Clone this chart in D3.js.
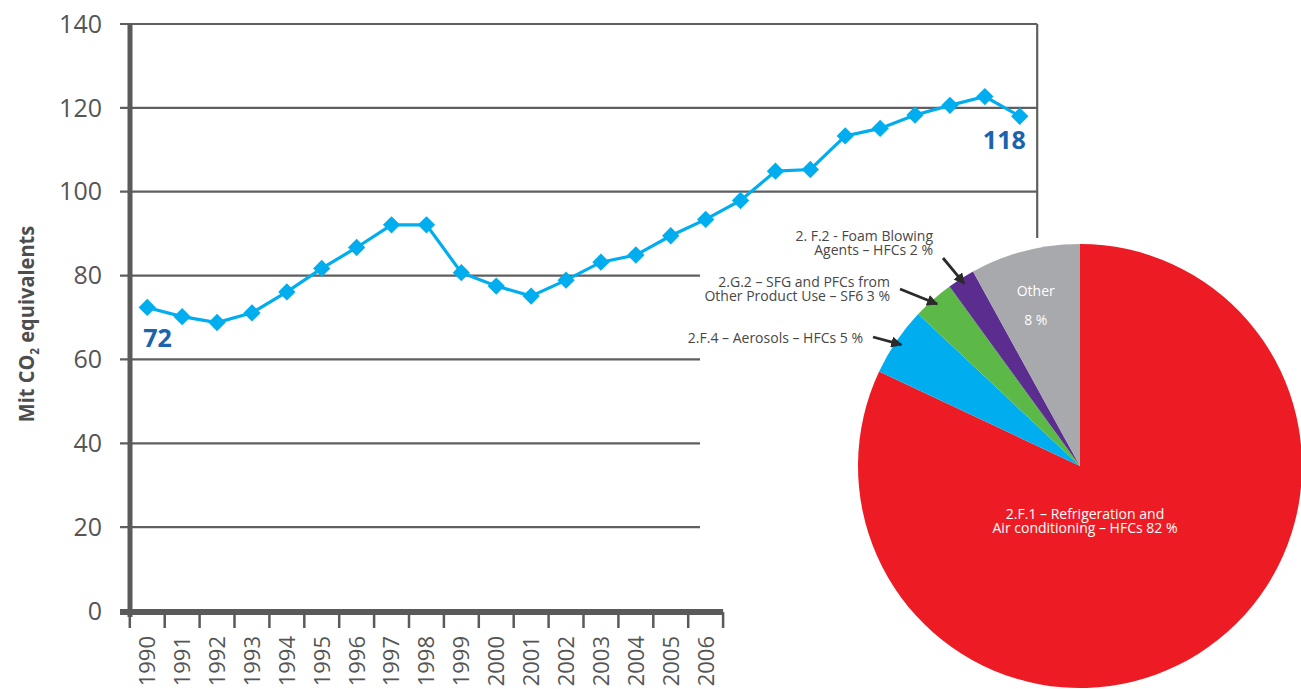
<!DOCTYPE html>
<html><head><meta charset="utf-8">
<script src="https://cdn.jsdelivr.net/npm/d3@7"></script>
<style>body{margin:0;background:#fff}svg{display:block}</style>
</head><body>
<svg id="c" width="1301" height="689"></svg>
<script>
// ---- data ----
const years = ["1990","1991","1992","1993","1994","1995","1996","1997","1998","1999","2000","2001","2002","2003","2004","2005","2006","2007","2008","2009","2010","2011","2012","2013","2014","2015"];
const emissions = [72.4,70.2,68.8,71.1,76.1,81.7,86.7,92.1,92.1,80.7,77.5,75.1,78.9,83.2,84.9,89.5,93.4,97.9,104.9,105.3,113.3,115.1,118.3,120.6,122.7,118.0];
const axisYears = ["1990","1991","1992","1993","1994","1995","1996","1997","1998","1999","2000","2001","2002","2003","2004","2005","2006"];
const yTicks = [0,20,40,60,80,100,120,140];
const valueLabels = [{year:"1990", text:"72"}, {year:"2015", text:"118"}];

const sliceNames = ["2.F.1 – Refrigeration and Air conditioning – HFCs", "2.F.4 – Aerosols – HFCs", "2.G.2 – SFG and PFCs from Other Product Use – SF6", "2. F.2 - Foam Blowing Agents – HFCs", "Other"];
const sliceShares = [82, 5, 3, 2, 8];
const sliceColors = ["#ed1c24", "#00aeef", "#5cb947", "#5b2d8e", "#a7a9ac"];

// ---- scales ----
const svg = d3.select("#c");
const x = d3.scaleBand().domain(years).range([129.8, 1037.2]);
const bw = x.bandwidth();
const y = d3.scaleLinear().domain([0, 140]).range([611, 24]);
const xc = d => x(d) + bw / 2;
const gridCol = "#5f5f5f";
const xRight = x.range()[1];
const axisEnd = x(axisYears[axisYears.length - 1]) + bw;

// gridlines
svg.append("g").selectAll("line").data(yTicks.filter(t => t > 0)).join("line")
  .attr("x1", 120).attr("x2", t => t >= 100 ? xRight : 700)
  .attr("y1", t => y(t)).attr("y2", t => y(t))
  .attr("stroke", gridCol).attr("stroke-width", 2.2);

// right border
svg.append("line").attr("x1", xRight).attr("x2", xRight).attr("y1", y(140)).attr("y2", 238)
  .attr("stroke", gridCol).attr("stroke-width", 2.2);

// y tick labels
svg.append("g").selectAll("text").data(yTicks).join("text")
  .attr("x", 102).attr("y", t => y(t)).attr("dy", "0.35em")
  .attr("text-anchor", "end").attr("fill", "#555")
  .style("font", "400 25px 'Open Sans', sans-serif").text(t => t);

// left axis
svg.append("line").attr("x1", 130).attr("x2", 130).attr("y1", y(140)).attr("y2", 617)
  .attr("stroke", "#5a5a5a").attr("stroke-width", 5);
// x axis
svg.append("line").attr("x1", 120).attr("x2", axisEnd).attr("y1", 612).attr("y2", 612)
  .attr("stroke", "#5a5a5a").attr("stroke-width", 6);
const tickPos = axisYears.map(d => x(d)).concat([axisEnd]);
svg.append("g").selectAll("line").data(tickPos).join("line")
  .attr("x1", d => d).attr("x2", d => d).attr("y1", 612).attr("y2", 628)
  .attr("stroke", "#5a5a5a").attr("stroke-width", 2.5);
svg.append("g").selectAll("text").data(axisYears).join("text")
  .attr("transform", d => `translate(${xc(d)},636) rotate(-90)`)
  .attr("dy", "0.36em").attr("text-anchor", "end").attr("fill", "#555")
  .style("font", "400 22px 'Open Sans', sans-serif").text(d => d);

// y axis title
const t = svg.append("text").attr("transform", "translate(34,324) rotate(-90) scale(0.91,1)")
  .attr("text-anchor", "middle").attr("fill", "#4d4d4d")
  .style("font", "700 22px 'Open Sans', sans-serif");
t.append("tspan").text("Mit CO");
t.append("tspan").attr("dy", 5).style("font-size", "13px").text("2");
t.append("tspan").attr("dy", -5).text(" equivalents");

// line
const lineData = years.map((d, i) => ({year: d, v: emissions[i]}));
svg.append("path").datum(lineData)
  .attr("d", d3.line().x(d => xc(d.year)).y(d => y(d.v)))
  .attr("fill", "none").attr("stroke", "#00aeef").attr("stroke-width", 3.2);
svg.append("g").selectAll("path").data(lineData).join("path")
  .attr("d", d3.symbol(d3.symbolSquare, 150))
  .attr("transform", d => `translate(${xc(d.year)},${y(d.v)}) rotate(45)`)
  .attr("fill", "#00aeef");

// value labels
const vl = svg.append("g").style("font", "700 25px 'Open Sans', sans-serif").attr("fill", "#1a63ad");
vl.append("text").attr("x", xc(valueLabels[0].year) - 4).attr("y", y(emissions[0]) + 40).text(valueLabels[0].text);
vl.append("text").attr("x", xc(valueLabels[1].year) + 6).attr("y", y(emissions[emissions.length-1]) + 33)
  .attr("text-anchor", "end").text(valueLabels[1].text);

// ---- pie ----
const cx = 1080, cy = 466, R = 222;
const pie = d3.pie().sort(null).value(d => d)(sliceShares);
const arc = d3.arc().innerRadius(0).outerRadius(R);
const pg = svg.append("g").attr("transform", `translate(${cx},${cy})`);
pg.selectAll("path").data(pie).join("path").attr("d", arc).attr("fill", (d, i) => sliceColors[i]);

const lf = "400 14px 'Open Sans', sans-serif";
// red label
const rl = pg.append("text").attr("text-anchor", "middle").attr("fill", "#fff").style("font", lf);
rl.append("tspan").attr("x", 5).attr("y", 53).text("2.F.1 – Refrigeration and");
rl.append("tspan").attr("x", 5).attr("y", 67).text("Air conditioning – HFCs " + sliceShares[0] + " %");
// other label
const oc = d3.arc().innerRadius(178).outerRadius(178).centroid(pie[4]);
const ol = pg.append("text").attr("text-anchor", "middle").attr("fill", "#fff").style("font", lf);
ol.append("tspan").attr("x", oc[0]).attr("y", oc[1] + 2).text("Other");
ol.append("tspan").attr("x", oc[0]).attr("y", oc[1] + 31).text(sliceShares[4] + " %");

// outer labels with arrows
svg.append("defs").append("marker").attr("id", "ah").attr("viewBox", "0 0 10 10")
  .attr("refX", 9).attr("refY", 5).attr("markerWidth", 4).attr("markerHeight", 4)
  .attr("orient", "auto").append("path").attr("d", "M0,0L10,5L0,10z").attr("fill", "#2b2b2b");

const outer = [
  {i: 3, lines: ["2. F.2 - Foam Blowing", "Agents – HFCs " + sliceShares[3] + " %"], rx: 933, by: 255, ax: 943, ay: 258},
  {i: 2, lines: ["2.G.2 – SFG and PFCs from", "Other Product Use – SF6 " + sliceShares[2] + " %"], rx: 890, by: 301, ax: 900, ay: 289},
  {i: 1, lines: ["2.F.4 – Aerosols – HFCs " + sliceShares[1] + " %"], rx: 863, by: 343, ax: 873, ay: 337}
];
const edge = d3.arc().innerRadius(R - 6).outerRadius(R - 6);
outer.forEach(o => {
  const tx = svg.append("text").attr("text-anchor", "end").attr("fill", "#474747").style("font", lf);
  o.lines.forEach((l, k) => tx.append("tspan").attr("x", o.rx).attr("y", o.by - (o.lines.length - 1 - k) * 14).text(l));
  const c = edge.centroid(pie[o.i]);
  svg.append("line").attr("x1", o.ax).attr("y1", o.ay).attr("x2", cx + c[0]).attr("y2", cy + c[1])
    .attr("stroke", "#2b2b2b").attr("stroke-width", 2.8).attr("marker-end", "url(#ah)");
});
</script>
</body></html>
